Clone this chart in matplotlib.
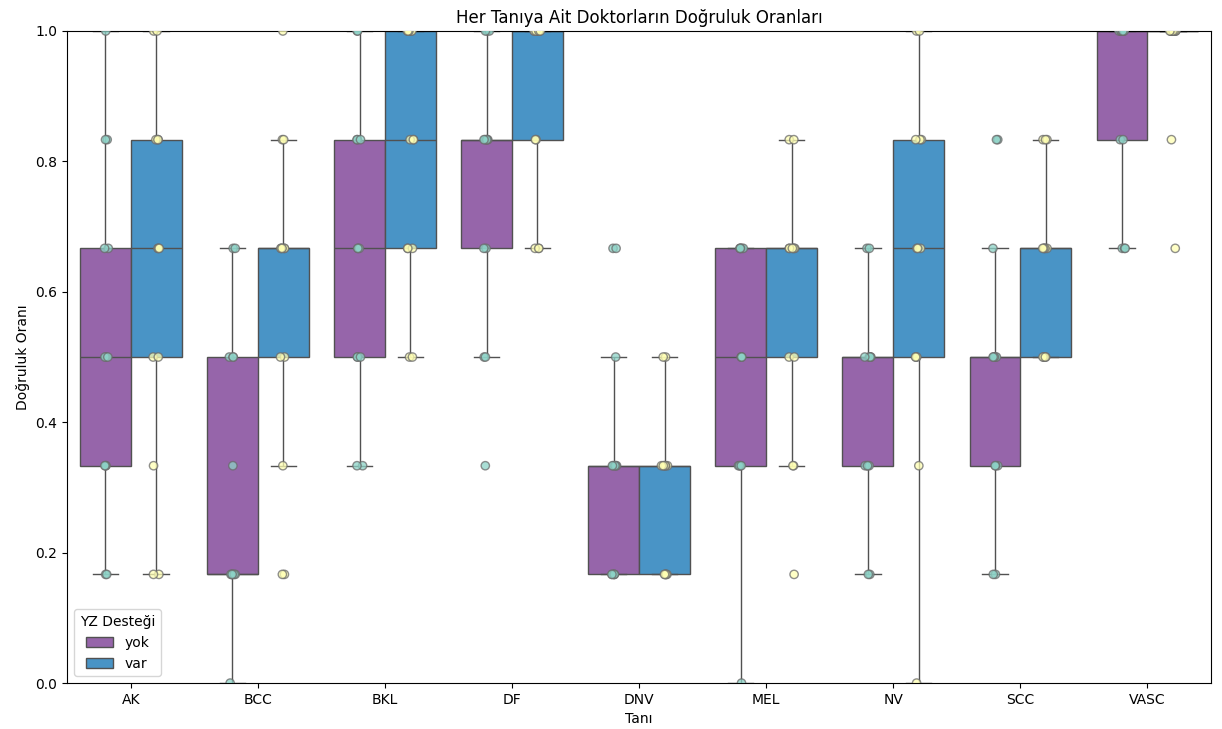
import numpy as np
import pandas as pd
import matplotlib
matplotlib.use('Agg')
import matplotlib.pyplot as plt
import seaborn as sns

# her tanı için doktor başına doğru sayısı (6 görüntü üzerinden)
tanilar = ['AK', 'BCC', 'BKL', 'DF', 'DNV', 'MEL', 'NV', 'SCC', 'VASC']

yok_dogru = {
    'AK':   [1, 1, 2, 2, 2, 3, 3, 3, 4, 4, 5, 5, 6],
    'BCC':  [0, 1, 1, 1, 1, 1, 1, 2, 3, 3, 3, 4, 4],
    'BKL':  [2, 2, 3, 3, 3, 4, 4, 4, 5, 5, 5, 6, 6],
    'DF':   [2, 3, 3, 4, 4, 5, 5, 5, 5, 5, 6, 6, 6],
    'DNV':  [1, 1, 1, 1, 1, 2, 2, 2, 2, 2, 3, 4, 4],
    'MEL':  [0, 2, 2, 2, 2, 3, 3, 3, 4, 4, 4, 4, 4],
    'NV':   [1, 1, 2, 2, 2, 2, 3, 3, 3, 3, 3, 4, 4],
    'SCC':  [1, 1, 2, 2, 2, 3, 3, 3, 3, 3, 4, 5, 5],
    'VASC': [4, 4, 4, 5, 5, 6, 6, 6, 6, 6, 6, 6, 6],
}

var_dogru = {
    'AK':   [1, 1, 2, 3, 3, 4, 4, 4, 5, 5, 5, 6, 6],
    'BCC':  [1, 1, 2, 3, 3, 4, 4, 4, 4, 4, 5, 5, 6],
    'BKL':  [3, 3, 4, 4, 4, 5, 5, 5, 6, 6, 6, 6, 6],
    'DF':   [4, 4, 4, 5, 5, 6, 6, 6, 6, 6, 6, 6, 6],
    'DNV':  [1, 1, 1, 1, 1, 2, 2, 2, 2, 2, 2, 3, 3],
    'MEL':  [1, 2, 2, 3, 3, 4, 4, 4, 4, 4, 4, 5, 5],
    'NV':   [0, 2, 3, 3, 3, 4, 4, 4, 5, 5, 5, 6, 6],
    'SCC':  [3, 3, 3, 3, 3, 4, 4, 4, 4, 4, 5, 5, 5],
    'VASC': [4, 5, 6, 6, 6, 6, 6, 6, 6, 6, 6, 6, 6],
}

destek_sirasi = ['yok', 'var']
kutu_renkleri = {'yok': '#9b59b6', 'var': '#3498db'}

rows = []
for t in tanilar:
    for k in yok_dogru[t]:
        rows.append({'Tanı': t, 'YZ Desteği': 'yok', 'Doğruluk Oranı': k / 6})
    for k in var_dogru[t]:
        rows.append({'Tanı': t, 'YZ Desteği': 'var', 'Doğruluk Oranı': k / 6})
df = pd.DataFrame(rows)

np.random.seed(0)
fig, ax = plt.subplots(figsize=(12.22, 7.29), dpi=100)
fig.subplots_adjust(left=0.055, right=0.991, top=0.9575, bottom=0.063)

sns.boxplot(data=df, x='Tanı', y='Doğruluk Oranı', hue='YZ Desteği',
            order=tanilar, hue_order=destek_sirasi, palette=kutu_renkleri,
            showfliers=False, ax=ax)
sns.stripplot(data=df, x='Tanı', y='Doğruluk Oranı', hue='YZ Desteği',
              order=tanilar, hue_order=destek_sirasi, palette='Set3',
              dodge=True, jitter=0.05, size=6, edgecolor='gray', linewidth=1,
              alpha=0.75, legend=False, ax=ax)

ax.set_ylim(0, 1)
ax.set_title('Her Tanıya Ait Doktorların Doğruluk Oranları', fontsize=12)
ax.set_xlabel('Tanı')
ax.set_ylabel('Doğruluk Oranı')
sns.move_legend(ax, 'lower left', title='YZ Desteği')

plt.savefig('out.png', dpi=100)
